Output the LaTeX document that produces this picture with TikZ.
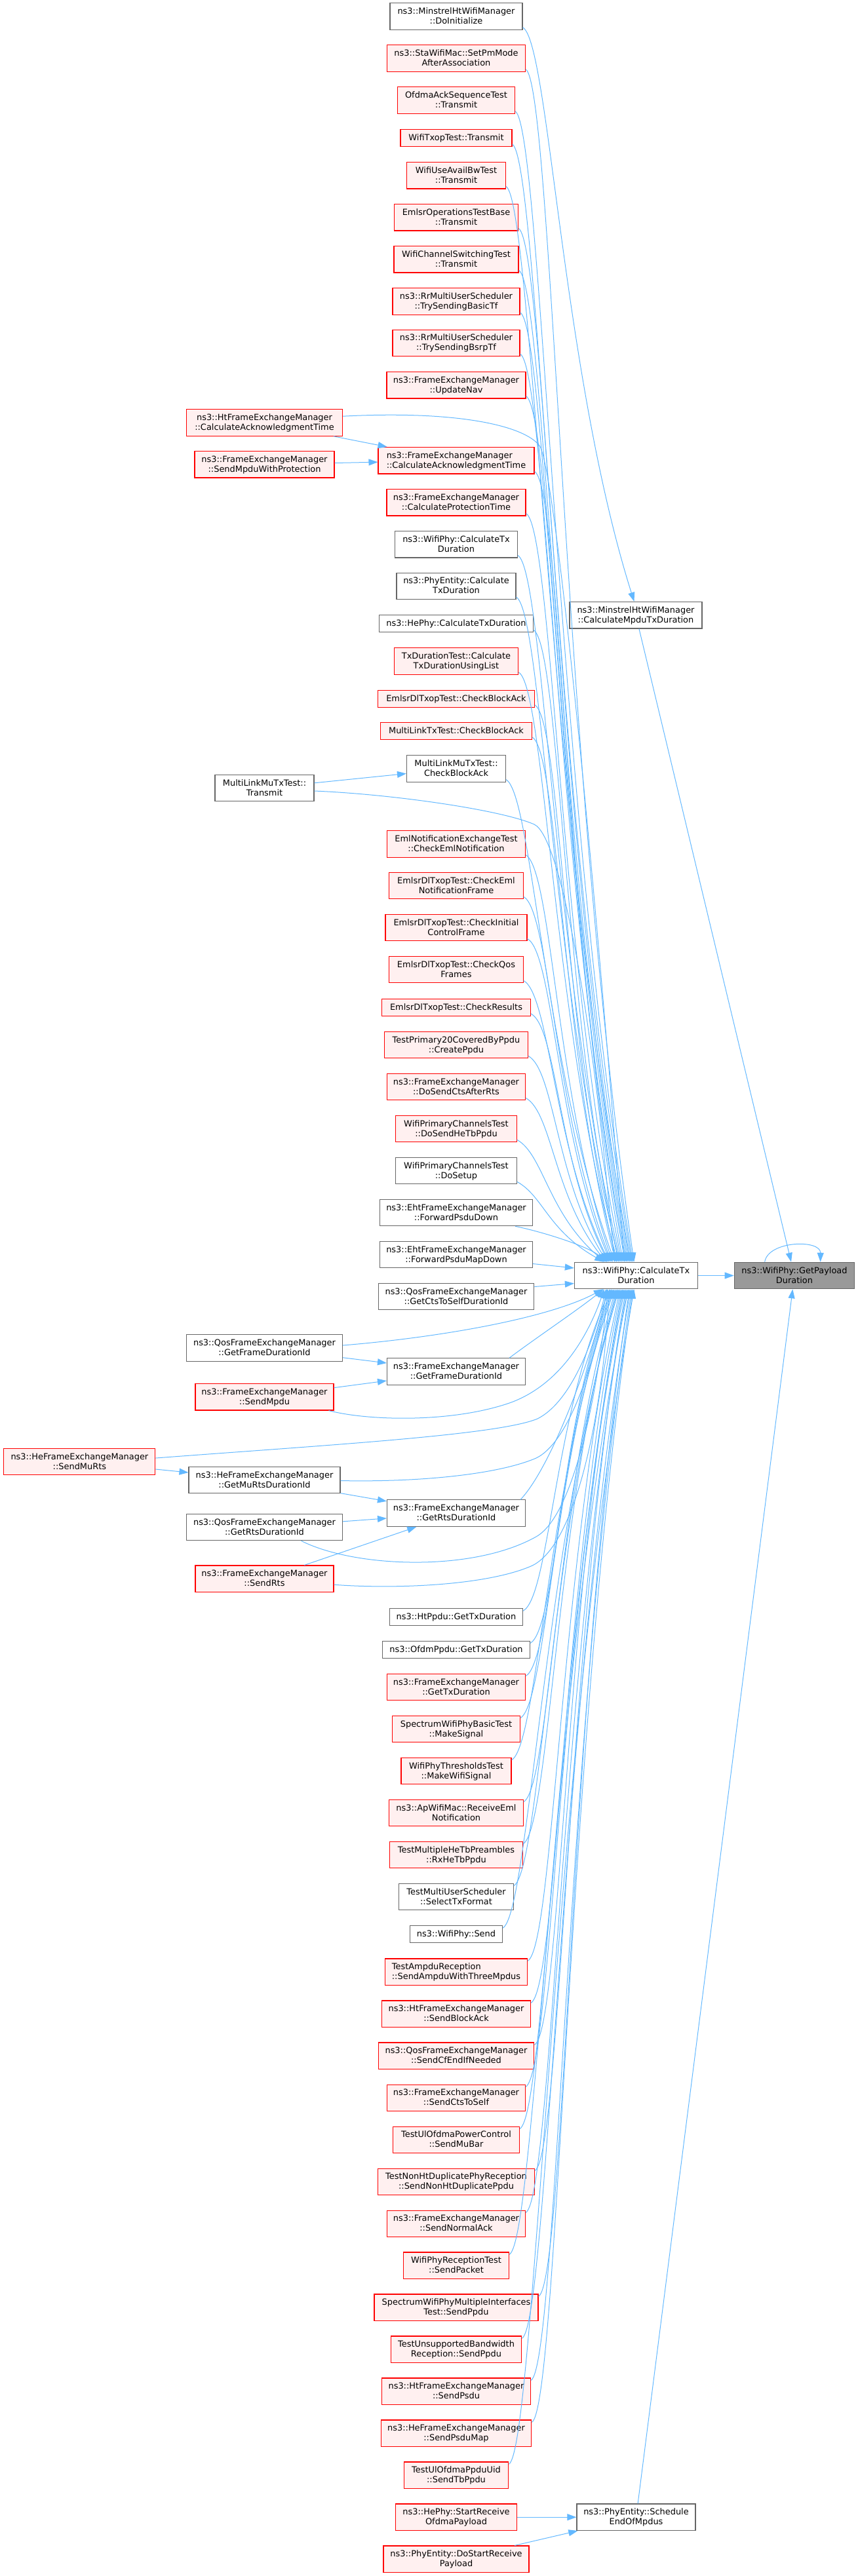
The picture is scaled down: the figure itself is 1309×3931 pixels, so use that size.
\documentclass[tikz,border=0pt]{standalone}
\usepackage{fontspec}
\setmainfont{DejaVu Sans}
\usetikzlibrary{arrows.meta,calc}
\definecolor{eblue}{HTML}{63B8FF}
\definecolor{rfill}{HTML}{FFF0F0}
\definecolor{gborder}{HTML}{666666}
\definecolor{gfill}{HTML}{999999}
\newcommand\mystrut{\rule[-2.5pt]{0pt}{11pt}}
\newcommand\Ltwo[2]{\mystrut#1\\\mystrut#2}
\newcommand\Lone[1]{\mystrut#1}
\newcommand\nd[6]{\node[#2,minimum width=#5*0.75pt] (#1) at (#3,#4) {#6};}
\newcommand\upE[3]{%
\draw[calledge] let \p1=($(#1.south east)+(0,-4)$), \p2=($(#2.north west)+(#3,0)$) in
 (\p1) .. controls ($(\p1)+(40,22)$) and ({\x1+0.35*(\x2-\x1)},{\y1+0.6*(\y2-\y1)}) .. (\p2);}
\newcommand\dnE[3]{%
\draw[calledge] let \p1=($(#1.north east)+(0,4)$), \p2=($(#2.south west)+(#3,0)$) in
 (\p1) .. controls ($(\p1)+(40,-22)$) and ({\x1+0.35*(\x2-\x1)},{\y1+0.6*(\y2-\y1)}) .. (\p2);}
\tikzset{
 basebox/.style={draw,line width=0.8pt,inner xsep=2pt,inner ysep=0pt,font=\fontsize{9.7}{11.25}\selectfont,align=center},
 rnode/.style={basebox,draw=red,fill=rfill},
 wnode/.style={basebox,draw=gborder,fill=white},
 gnode/.style={basebox,draw=gborder,fill=gfill},
 htwo/.style={minimum height=30.4pt},
 hone/.style={minimum height=19.5pt},
 calledge/.style={draw=eblue,line width=0.75pt,-{Triangle[length=10.5pt,width=7.5pt]}},
}
\begin{document}
\begin{tikzpicture}[x=0.75pt,y=-0.75pt]
\useasboundingbox (0,0) rectangle (1309,3931);
\nd{doinit}{wnode,htwo}{696}{25}{202}{\Ltwo{ns3::MinstrelHtWifiManager}{::DoInitialize}}
\nd{setpm}{rnode,htwo}{696}{89}{211}{\Ltwo{ns3::StaWifiMac::SetPmMode}{AfterAssociation}}
\nd{ofdmaack}{rnode,htwo}{696}{153}{179}{\Ltwo{OfdmaAckSequenceTest}{::Transmit}}
\nd{txop}{rnode,hone}{696}{210.5}{170}{\Lone{WifiTxopTest::Transmit}}
\nd{useavail}{rnode,htwo}{696}{267.7}{151}{\Ltwo{WifiUseAvailBwTest}{::Transmit}}
\nd{emlsrops}{rnode,htwo}{696}{331.7}{189}{\Ltwo{EmlsrOperationsTestBase}{::Transmit}}
\nd{chsw}{rnode,htwo}{696}{395.7}{190}{\Ltwo{WifiChannelSwitchingTest}{::Transmit}}
\nd{rrbasic}{rnode,htwo}{696}{460}{194}{\Ltwo{ns3::RrMultiUserScheduler}{::TrySendingBasicTf}}
\nd{rrbsrp}{rnode,htwo}{696}{523.3}{194}{\Ltwo{ns3::RrMultiUserScheduler}{::TrySendingBsrpTf}}
\nd{updnav}{rnode,htwo}{696}{587.7}{212}{\Ltwo{ns3::FrameExchangeManager}{::UpdateNav}}
\nd{htcalcack}{rnode,htwo}{403.5}{645}{238}{\Ltwo{ns3::HtFrameExchangeManager}{::CalculateAcknowledgmentTime}}
\nd{femcalcack}{rnode,htwo,align=left}{696}{702.7}{238}{\Ltwo{ns3::FrameExchangeManager}{::CalculateAcknowledgmentTime}}
\nd{sendmpduprot}{rnode,htwo}{403.5}{708.7}{213}{\Ltwo{ns3::FrameExchangeManager}{::SendMpduWithProtection}}
\nd{calcprot}{rnode,htwo}{696}{766.7}{212}{\Ltwo{ns3::FrameExchangeManager}{::CalculateProtectionTime}}
\nd{wpcalctx}{wnode,htwo}{696}{830.7}{187}{\Ltwo{ns3::WifiPhy::CalculateTx}{Duration}}
\nd{pecalctx}{wnode,htwo}{696}{894.3}{182}{\Ltwo{ns3::PhyEntity::Calculate}{TxDuration}}
\nd{hecalctx}{wnode,hone}{696}{951.8}{234.5}{\Lone{ns3::HePhy::CalculateTxDuration}}
\nd{txdurtest}{rnode,htwo}{696}{1009.2}{189.5}{\Ltwo{TxDurationTest::Calculate}{TxDurationUsingList}}
\nd{emlsrcba}{rnode,hone}{696}{1066.3}{238.7}{\Lone{EmlsrDlTxopTest::CheckBlockAck}}
\nd{mltcba}{rnode,hone}{696}{1115.5}{231}{\Lone{MultiLinkTxTest::CheckBlockAck}}
\nd{mlmucba}{wnode,htwo}{696}{1172.8}{151}{\Ltwo{MultiLinkMuTxTest::}{CheckBlockAck}}
\nd{mlmutx}{wnode,htwo}{403.5}{1202.5}{151}{\Ltwo{MultiLinkMuTxTest::}{Transmit}}
\nd{emlnotif}{rnode,htwo}{696}{1287.8}{211}{\Ltwo{EmlNotificationExchangeTest}{::CheckEmlNotification}}
\nd{cheml}{rnode,htwo}{696}{1351.5}{204.5}{\Ltwo{EmlsrDlTxopTest::CheckEml}{NotificationFrame}}
\nd{chinit}{rnode,htwo}{696}{1415.6}{216}{\Ltwo{EmlsrDlTxopTest::CheckInitial}{ControlFrame}}
\nd{chqos}{rnode,htwo}{696}{1479.6}{204.5}{\Ltwo{EmlsrDlTxopTest::CheckQos}{Frames}}
\nd{chres}{rnode,hone}{696}{1537.3}{227}{\Lone{EmlsrDlTxopTest::CheckResults}}
\nd{tp20}{rnode,htwo}{696}{1594.5}{218.7}{\Ltwo{TestPrimary20CoveredByPpdu}{::CreatePpdu}}
\nd{dosendcts}{rnode,htwo}{696}{1658.6}{211}{\Ltwo{ns3::FrameExchangeManager}{::DoSendCtsAfterRts}}
\nd{dosendhetb}{rnode,htwo}{696}{1722.5}{184.5}{\Ltwo{WifiPrimaryChannelsTest}{::DoSendHeTbPpdu}}
\nd{dosetup}{wnode,htwo}{696}{1786.5}{184.5}{\Ltwo{WifiPrimaryChannelsTest}{::DoSetup}}
\nd{fwdpsdu}{wnode,htwo}{696}{1850.5}{233}{\Ltwo{ns3::EhtFrameExchangeManager}{::ForwardPsduDown}}
\nd{fwdpsdumap}{wnode,htwo}{696}{1914.5}{233}{\Ltwo{ns3::EhtFrameExchangeManager}{::ForwardPsduMapDown}}
\nd{ctstoself}{wnode,htwo}{696}{1978.5}{237.7}{\Ltwo{ns3::QosFrameExchangeManager}{::GetCtsToSelfDurationId}}
\nd{qosgetframe}{wnode,htwo}{403.5}{2057}{238}{\Ltwo{ns3::QosFrameExchangeManager}{::GetFrameDurationId}}
\nd{femgetframe}{wnode,htwo}{696}{2093}{211}{\Ltwo{ns3::FrameExchangeManager}{::GetFrameDurationId}}
\nd{sendmpdu}{rnode,htwo}{403.5}{2131.7}{211}{\Ltwo{ns3::FrameExchangeManager}{::SendMpdu}}
\nd{sendmurts}{rnode,htwo}{121.4}{2230.5}{231}{\Ltwo{ns3::HeFrameExchangeManager}{::SendMuRts}}
\nd{getmurts}{wnode,htwo}{403.5}{2258.5}{231}{\Ltwo{ns3::HeFrameExchangeManager}{::GetMuRtsDurationId}}
\nd{femgetrts}{wnode,htwo}{696}{2309.2}{211}{\Ltwo{ns3::FrameExchangeManager}{::GetRtsDurationId}}
\nd{qosgetrts}{wnode,htwo}{403.5}{2330.5}{238}{\Ltwo{ns3::QosFrameExchangeManager}{::GetRtsDurationId}}
\nd{sendrts}{rnode,htwo}{403.5}{2409.2}{211}{\Ltwo{ns3::FrameExchangeManager}{::SendRts}}
\nd{htppdu}{wnode,hone}{696}{2467.8}{203}{\Lone{ns3::HtPpdu::GetTxDuration}}
\nd{ofdmppdu}{wnode,hone}{696}{2517.2}{224.5}{\Lone{ns3::OfdmPpdu::GetTxDuration}}
\nd{femgettx}{rnode,htwo}{696}{2574.5}{211}{\Ltwo{ns3::FrameExchangeManager}{::GetTxDuration}}
\nd{makesignal}{rnode,htwo}{696}{2638.5}{194.5}{\Ltwo{SpectrumWifiPhyBasicTest}{::MakeSignal}}
\nd{makewifisig}{rnode,htwo}{696}{2702.5}{168}{\Ltwo{WifiPhyThresholdsTest}{::MakeWifiSignal}}
\nd{receml}{rnode,htwo}{696}{2766.5}{204.5}{\Ltwo{ns3::ApWifiMac::ReceiveEml}{Notification}}
\nd{rxhetb}{rnode,htwo}{696}{2830.5}{203}{\Ltwo{TestMultipleHeTbPreambles}{::RxHeTbPpdu}}
\nd{seltx}{wnode,htwo}{696}{2894.5}{174.5}{\Ltwo{TestMultiUserScheduler}{::SelectTxFormat}}
\nd{wpsend}{wnode,hone}{696}{2951.7}{141}{\Lone{ns3::WifiPhy::Send}}
\nd{ampdu}{rnode,htwo,align=left}{696}{3009.2}{217}{\Ltwo{TestAmpduReception}{::SendAmpduWithThreeMpdus}}
\nd{sendba}{rnode,htwo}{696}{3073.2}{227}{\Ltwo{ns3::HtFrameExchangeManager}{::SendBlockAck}}
\nd{cfend}{rnode,htwo}{696}{3137.2}{237.7}{\Ltwo{ns3::QosFrameExchangeManager}{::SendCfEndIfNeeded}}
\nd{ctsself}{rnode,htwo}{696}{3201.3}{211}{\Ltwo{ns3::FrameExchangeManager}{::SendCtsToSelf}}
\nd{mubar}{rnode,htwo}{696}{3265.3}{193}{\Ltwo{TestUlOfdmaPowerControl}{::SendMuBar}}
\nd{nonht}{rnode,htwo}{696}{3329.3}{238.7}{\Ltwo{TestNonHtDuplicatePhyReception}{::SendNonHtDuplicatePpdu}}
\nd{normack}{rnode,htwo}{696}{3393.3}{211}{\Ltwo{ns3::FrameExchangeManager}{::SendNormalAck}}
\nd{sendpkt}{rnode,htwo}{696}{3457.2}{161}{\Ltwo{WifiPhyReceptionTest}{::SendPacket}}
\nd{multiif}{rnode,htwo}{696}{3521.2}{250}{\Ltwo{SpectrumWifiPhyMultipleInterfaces}{Test::SendPpdu}}
\nd{unsupbw}{rnode,htwo}{696}{3585.2}{199.5}{\Ltwo{TestUnsupportedBandwidth}{Reception::SendPpdu}}
\nd{sendpsdu}{rnode,htwo}{696}{3649.2}{227}{\Ltwo{ns3::HtFrameExchangeManager}{::SendPsdu}}
\nd{psdumap}{rnode,htwo}{696}{3713.2}{229.5}{\Ltwo{ns3::HeFrameExchangeManager}{::SendPsduMap}}
\nd{tbppdu}{rnode,htwo}{696}{3777.2}{159.5}{\Ltwo{TestUlOfdmaPpduUid}{::SendTbPpdu}}
\nd{hestart}{rnode,htwo}{696}{3841.2}{184.5}{\Ltwo{ns3::HePhy::StartReceive}{OfdmaPayload}}
\nd{dostart}{rnode,htwo}{696}{3905.2}{222}{\Ltwo{ns3::PhyEntity::DoStartReceive}{Payload}}
\nd{calcmpdu}{wnode,htwo}{970}{938.7}{202}{\Ltwo{ns3::MinstrelHtWifiManager}{::CalculateMpduTxDuration}}
\nd{calctx}{wnode,htwo}{970.4}{1946.5}{188}{\Ltwo{ns3::WifiPhy::CalculateTx}{Duration}}
\nd{getpay}{gnode,htwo}{1212}{1946.5}{183.6}{\Ltwo{ns3::WifiPhy::GetPayload}{Duration}}
\nd{sched}{wnode,htwo}{970.5}{3841.2}{181}{\Ltwo{ns3::PhyEntity::Schedule}{EndOfMpdus}}
% edges from callers above
\upE{doinit}{calcmpdu}{99}
\upE{setpm}{calctx}{91.5}
\upE{ofdmaack}{calctx}{89.8}
\upE{txop}{calctx}{88.2}
\upE{useavail}{calctx}{86.6}
\upE{emlsrops}{calctx}{84.9}
\upE{chsw}{calctx}{83.1}
\upE{rrbasic}{calctx}{81.4}
\upE{rrbsrp}{calctx}{79.7}
\upE{updnav}{calctx}{77.9}
\upE{femcalcack}{calctx}{74.8}
\upE{calcprot}{calctx}{73}
\upE{wpcalctx}{calctx}{71.3}
\upE{pecalctx}{calctx}{69.6}
\upE{hecalctx}{calctx}{68}
\upE{txdurtest}{calctx}{66.5}
\upE{emlsrcba}{calctx}{64.9}
\upE{mltcba}{calctx}{63.6}
\upE{mlmucba}{calctx}{62}
\upE{emlnotif}{calctx}{58.9}
\upE{cheml}{calctx}{57.1}
\upE{chinit}{calctx}{55.4}
\upE{chqos}{calctx}{53.6}
\upE{chres}{calctx}{52.1}
\upE{tp20}{calctx}{50.5}
\upE{dosendcts}{calctx}{48.8}
\upE{dosendhetb}{calctx}{47}
\upE{dosetup}{calctx}{45.3}
\draw[calledge] ($(htcalcack.north east)+(0,11)$) .. controls (700,626) and (800,650) .. (823,680) .. controls (846,710) and (905,1300) .. ($(calctx.north west)+(76.4,0)$);
\draw[calledge] ($(mlmutx.east)+(0,4.5)$) .. controls (600,1212) and (765,1236) .. (815,1258) .. controls (855,1276) and (905,1550) .. ($(calctx.north west)+(61.2,0)$);
\draw[calledge] ($(fwdpsdu.south east)+(-27,0)$) .. controls (820,1878) and (895,1900) .. ($(calctx.north west)+(50,0)$);
\draw[calledge] ($(fwdpsdumap.east)+(0,14)$) -- ($(calctx.west)+(0,-11.5)$);
\draw[calledge] ($(ctstoself.east)+(0,-15)$) -- ($(calctx.west)+(0,12)$);
% edges from callers below
\dnE{htppdu}{calctx}{55.3}
\dnE{ofdmppdu}{calctx}{56.7}
\dnE{femgettx}{calctx}{58.3}
\dnE{makesignal}{calctx}{60}
\dnE{makewifisig}{calctx}{61.8}
\dnE{receml}{calctx}{63.6}
\dnE{rxhetb}{calctx}{65.4}
\dnE{seltx}{calctx}{67.1}
\dnE{wpsend}{calctx}{68.7}
\dnE{ampdu}{calctx}{70.3}
\dnE{sendba}{calctx}{72.1}
\dnE{cfend}{calctx}{73.8}
\dnE{ctsself}{calctx}{75.6}
\dnE{mubar}{calctx}{77.4}
\dnE{nonht}{calctx}{79.1}
\dnE{normack}{calctx}{80.9}
\dnE{sendpkt}{calctx}{82.7}
\dnE{multiif}{calctx}{84.4}
\dnE{unsupbw}{calctx}{86.2}
\dnE{sendpsdu}{calctx}{88}
\dnE{psdumap}{calctx}{89.7}
\dnE{tbppdu}{calctx}{91.5}
\draw[calledge] ($(qosgetframe.east)+(0,-4)$) .. controls (680,2040) and (840,2010) .. ($(calctx.south west)+(44,0)$);
\draw[calledge] ($(femgetframe.north east)+(-25,0)$) .. controls (820,2040) and (880,2000) .. ($(calctx.south west)+(45,0)$);
\draw[calledge] ($(sendmpdu.south east)+(-8,0)$) .. controls (560,2168) and (690,2172) .. (780,2140) .. controls (860,2110) and (900,2030) .. ($(calctx.south west)+(46,0)$);
\draw[calledge] ($(sendmurts.east)+(0,-5.5)$) .. controls (500,2205) and (760,2190) .. (820,2165) .. controls (870,2140) and (905,2050) .. ($(calctx.south west)+(48.8,0)$);
\draw[calledge] ($(getmurts.east)+(0,1)$) .. controls (640,2262) and (760,2250) .. (818,2225) .. controls (870,2200) and (910,2070) .. ($(calctx.south west)+(49.6,0)$);
\draw[calledge] ($(femgetrts.north east)+(-8,0)$) .. controls (840,2240) and (900,2080) .. ($(calctx.south west)+(51,0)$);
\draw[calledge] ($(qosgetrts.south east)+(-63.5,0)$) .. controls (540,2392) and (720,2400) .. (818,2345) .. controls (880,2310) and (915,2100) .. ($(calctx.south west)+(51.5,0)$);
\draw[calledge] ($(sendrts.east)+(0,9)$) .. controls (600,2425) and (740,2420) .. (810,2390) .. controls (880,2360) and (920,2150) .. ($(calctx.south west)+(53.7,0)$);
% short straight calls
\draw[calledge] (htcalcack) -- (femcalcack);
\draw[calledge] (sendmpduprot) -- (femcalcack);
\draw[calledge] (mlmutx) -- (mlmucba);
\draw[calledge] (qosgetframe) -- (femgetframe);
\draw[calledge] (sendmpdu) -- (femgetframe);
\draw[calledge] (sendmurts) -- (getmurts);
\draw[calledge] (getmurts) -- (femgetrts);
\draw[calledge] (qosgetrts) -- (femgetrts);
\draw[calledge] (sendrts) -- (femgetrts);
\draw[calledge] (hestart) -- (sched);
\draw[calledge] (dostart) -- (sched);
% edges into GetPayloadDuration
\draw[calledge] (calctx) -- (getpay);
\draw[calledge] (calcmpdu) -- (getpay);
\draw[calledge] (sched) -- (getpay);
\draw[calledge] ($(getpay.north west)+(47,0)$) .. controls (1172,1893) and (1252,1891) .. ($(getpay.north west)+(132,0)$);
\end{tikzpicture}
\end{document}
